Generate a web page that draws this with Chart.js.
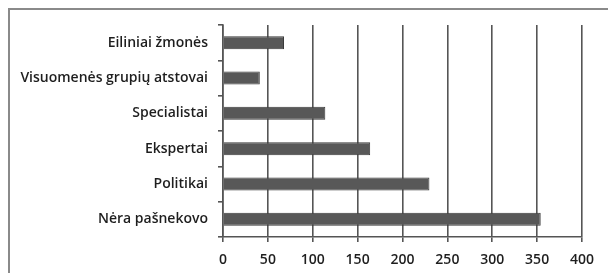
<!DOCTYPE html>
<html>
<head>
<meta charset="utf-8">
<script src="https://cdn.jsdelivr.net/npm/chart.js@4"></script>
<style>
  html, body { margin: 0; padding: 0; background: #fff; }
  #wrap { position: relative; width: 608px; height: 273px; overflow: hidden; }
  #frame { position: absolute; left: 8px; top: 8px; width: 640px; height: 300px; border: 2px solid #8a8a8a; box-sizing: border-box; }
  canvas { position: absolute; left: 0; top: 0; }
</style>
</head>
<body>
<div id="wrap">
  <div id="frame"></div>
  <canvas id="myChart" width="608" height="273"></canvas>
</div>
<script>
// Kategorijos ir reikšmės
var categories = ['Eiliniai žmonės', 'Visuomenės grupių atstovai', 'Specialistai', 'Ekspertai', 'Politikai', 'Nėra pašnekovo'];
var values = [68, 41, 114, 164, 230, 354];
var xTicks = [0, 50, 100, 150, 200, 250, 300, 350, 400];

var ctx = document.getElementById('myChart').getContext('2d');
var barChart = new Chart(ctx, {
    type: 'bar',
    data: {
        labels: categories,
        datasets: [{
            data: values,
            backgroundColor: '#585858',
            borderColor: '#3a3a3a',
            borderWidth: 1,
            barPercentage: 0.37,
            categoryPercentage: 1
        }]
    },
    options: {
        indexAxis: 'y',
        responsive: false,
        animation: false,
        layout: { padding: { left: 0, right: 26, top: 25, bottom: 0 } },
        plugins: { legend: { display: false }, tooltip: { enabled: false } },
        scales: {
            x: {
                min: xTicks[0],
                max: xTicks[xTicks.length - 1],
                ticks: { stepSize: 50, color: '#1e1e1e', padding: 10, font: { family: 'Open Sans', size: 14, weight: '600' } },
                grid: { color: '#555', lineWidth: 1.6, tickLength: 5 },
                border: { color: '#555', width: 1.6 },
                afterFit: function (scale) { scale.height = 36; }
            },
            y: {
                ticks: { color: '#1e1e1e', padding: 10, font: { family: 'Open Sans', size: 14, weight: '600' } },
                grid: { drawOnChartArea: false, color: '#555', lineWidth: 1.6, tickLength: 5, offset: true },
                border: { color: '#555', width: 1.6 },
                afterFit: function (scale) { scale.width = 223; }
            }
        }
    }
});
</script>
</body>
</html>
